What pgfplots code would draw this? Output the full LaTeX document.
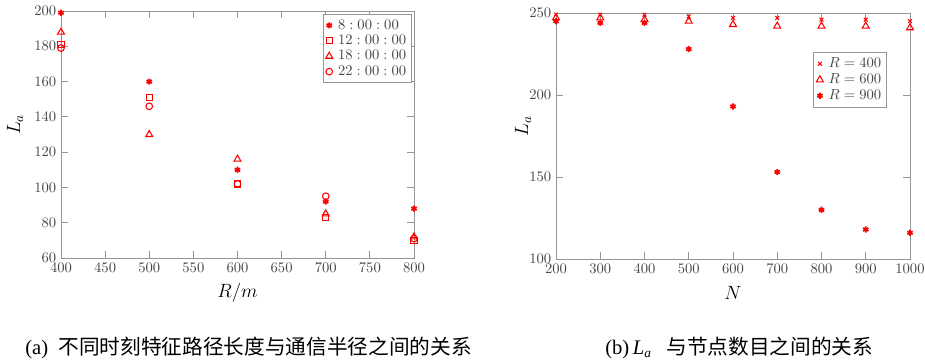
\documentclass[border=0pt]{standalone}
\usepackage{pgfplots}
\pgfplotsset{compat=1.18}
\usepackage{fontspec}
\newfontfamily\cjk{Noto Sans CJK SC}
\newfontfamily\capserif{Liberation Serif}
\definecolor{axgray}{RGB}{150,150,150}
\definecolor{txtgray}{RGB}{70,70,70}
\pgfplotsset{
  myaxis/.style={
    scale only axis,
    axis line style={axgray, line width=0.6pt},
    every tick/.style={axgray, line width=0.6pt},
    major tick length=5pt,
    tick align=inside,
    tick label style={font=\fontsize{10.5pt}{12pt}\selectfont, text=txtgray},
    /pgf/number format/set thousands separator={},
    label style={font=\fontsize{14pt}{16pt}\selectfont},
    legend style={draw=axgray, line width=0.6pt, font=\fontsize{10.5pt}{12pt}\selectfont, text=txtgray, inner sep=2pt, row sep=-1pt, column sep=2pt},
    legend cell align=left,
    only marks,
  },
  ast/.style={red, mark=asterisk, mark size=2.3pt, line width=1.3pt, mark options={solid}},
  sq/.style={red, mark=square, mark size=2.3pt, line width=0.8pt},
  tri/.style={red, mark=triangle, mark size=3pt, line width=0.8pt},
  cir/.style={red, mark=o, mark size=2.5pt, line width=0.8pt},
  xx/.style={red, mark=x, mark size=2pt, line width=0.8pt},
}
\begin{document}
\begin{tikzpicture}
\useasboundingbox (0,0) rectangle (693.75pt,271.5pt);
\begin{axis}[myaxis,
  at={(45.75pt,78pt)}, anchor=south west,
  width=264.75pt, height=185.25pt,
  xmin=400, xmax=800, ymin=60, ymax=200,
  xtick={400,450,...,800}, ytick={60,80,...,200},
  xlabel={$R/m$}, ylabel={$L_a$},
  x label style={at={(axis description cs:0.5,-0.14)}, anchor=center},
  y label style={at={(axis description cs:-0.13,0.54)}, anchor=center},
  legend style={at={(rel axis cs:0.994,0.988)}, anchor=north east},
]
\addplot[ast] coordinates {(400,199) (500,160) (600,110) (700,92) (800,88)};
\addplot[sq] coordinates {(400,181) (500,151) (600,102) (700,83) (800,70)};
\addplot[tri] coordinates {(400,188) (500,130) (600,116) (700,85) (800,72)};
\addplot[cir] coordinates {(400,179) (500,146) (600,102) (700,95) (800,71)};
\legend{$8:00:00$,$12:00:00$,$18:00:00$,$22:00:00$}
\end{axis}
\begin{axis}[myaxis,
  at={(417pt,77.25pt)}, anchor=south west,
  width=265.5pt, height=184.5pt,
  xmin=200, xmax=1000, ymin=100, ymax=250,
  xtick={200,300,...,1000}, ytick={100,150,200,250},
  xlabel={$N$}, ylabel={$L_a$},
  x label style={at={(axis description cs:0.5,-0.138)}, anchor=center},
  y label style={at={(axis description cs:-0.093,0.54)}, anchor=center},
  legend style={at={(rel axis cs:0.935,0.841)}, anchor=north east, font=\fontsize{11pt}{12.5pt}\selectfont},
]
\addplot[xx] coordinates {(200,249) (300,249) (400,249) (500,248) (600,247) (700,247) (800,246) (900,246) (1000,245)};
\addplot[tri] coordinates {(200,247) (300,247) (400,246) (500,245) (600,243) (700,242) (800,242) (900,242) (1000,241)};
\addplot[ast] coordinates {(200,245) (300,244) (400,244) (500,228) (600,193) (700,153) (800,130) (900,118) (1000,116)};
\legend{$R=400$,$R=600$,$R=900$}
\end{axis}
\node[anchor=west, inner sep=0pt] at (18.75pt,10.5pt) {\fontsize{15.5pt}{18pt}\selectfont\capserif (a)\ \ \cjk 不同时刻特征路径长度与通信半径之间的关系};
\node[anchor=west, inner sep=0pt] at (453.75pt,10.5pt) {\fontsize{15.5pt}{18pt}\selectfont\capserif (b)\,\textit{L}\raisebox{-2.5pt}{\fontsize{10pt}{10pt}\selectfont\textit{a}}\ \ \ \cjk 与节点数目之间的关系};
\end{tikzpicture}
\end{document}
